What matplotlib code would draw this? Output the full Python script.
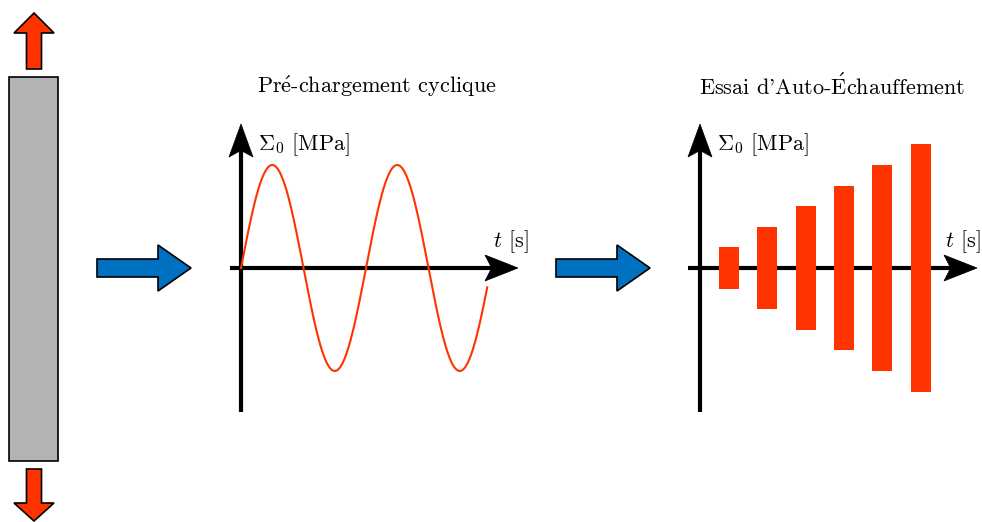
import numpy as np
import matplotlib
matplotlib.use("Agg")
import matplotlib.pyplot as plt
from matplotlib.patches import Polygon, Rectangle

plt.rcParams['font.family'] = ['cmr10', 'DejaVu Serif']
plt.rcParams['mathtext.fontset'] = 'cm'
plt.rcParams['axes.unicode_minus'] = False

# chart content
titles = [r"Pr$\acute{\mathrm{e}}$-chargement cyclique",
          r"Essai d'Auto-$\acute{\mathrm{E}}$chauffement"]
ylabel = r"$\Sigma_0$ [MPa]"
xlabel = r"$t$ [s]"
sine_cycles = 1.97          # number of periods drawn in the pre-loading panel
sine_amplitude = 1.0
block_levels = [0.2, 0.4, 0.6, 0.8, 1.0, 1.2]   # self-heating amplitude steps
block_times = [0.75, 1.75, 2.75, 3.75, 4.75, 5.75]

RED = "#ff3300"
BLUE = "#0070c0"
GRAY = "#b3b3b3"

# layout (pixels, y pointing down)
W, H = 982, 522
amp_px = 103          # pixels per stress unit
period_px = 125       # pixels per cycle (panel 1)
step_px = 38.4        # pixels per block step (panel 2)
origins = [(241, 268), (700, 268)]
axis_len = [(230, 518, 412, 124), (688, 977, 412, 124)]  # xstart, xtip, ybottom, ytip
title_x = [377, 832]
xlabel_x = [493, 945]

fig = plt.figure(figsize=(W / 100, H / 100), dpi=100)
ax = fig.add_axes([0, 0, 1, 1])
ax.set_xlim(0, W)
ax.set_ylim(H, 0)
ax.axis("off")


def head(tip, direction, length=33, half=12, color="black"):
    d = np.array(direction, float)
    n = np.array([-d[1], d[0]])
    tip = np.array(tip, float)
    base = tip - d * length
    notch = tip - d * length * 0.8
    pts = [tip, base + n * half, notch, base - n * half]
    ax.add_patch(Polygon(pts, closed=True, fc=color, ec=color, lw=0.5, zorder=5))


def block_arrow(x0, y0, dx, dy, shaft_w, head_w, head_l, fc):
    # arrow from (x0,y0) going along (dx,dy)
    d = np.array([dx, dy], float)
    L = np.hypot(dx, dy)
    d /= L
    n = np.array([-d[1], d[0]])
    p0 = np.array([x0, y0], float)
    sb = p0 + d * (L - head_l)
    pts = [p0 + n * shaft_w / 2, sb + n * shaft_w / 2, sb + n * head_w / 2,
           p0 + d * L, sb - n * head_w / 2, sb - n * shaft_w / 2, p0 - n * shaft_w / 2]
    ax.add_patch(Polygon(pts, closed=True, fc=fc, ec="black", lw=1.2, joinstyle="miter", zorder=4))


# specimen
ax.add_patch(Rectangle((9, 77), 49, 384, fc=GRAY, ec="black", lw=1.2))
block_arrow(34, 69, 0, -56, 15, 40, 20, RED)
block_arrow(34, 469, 0, 52, 15, 40, 18, RED)

# process arrows
block_arrow(97, 268, 94, 0, 18, 46, 33, BLUE)
block_arrow(556, 268, 94, 0, 18, 46, 33, BLUE)

# axes of both panels
for i, ((ox, oy), (xs, xt, yb, yt)) in enumerate(zip(origins, axis_len)):
    ax.plot([xs, xt - 20], [oy, oy], color="black", lw=3, solid_capstyle="butt", zorder=3)
    ax.plot([ox, ox], [yb, yt + 20], color="black", lw=3, solid_capstyle="butt", zorder=3)
    head((xt, oy), (1, 0), length=33, half=13)
    head((ox, yt), (0, -1), length=33, half=12)
    ax.text(ox + 17, 145, ylabel, fontsize=16, va="center", ha="left")
    ax.text(xlabel_x[i], 242, xlabel, fontsize=16, va="center", ha="left")
    ax.text(title_x[i], 86, titles[i], fontsize=16, ha="center", va="center")

# panel 1: cyclic pre-loading
ox, oy = origins[0]
t = np.linspace(0, sine_cycles, 400)
sig = sine_amplitude * np.sin(2 * np.pi * t)
ax.plot(ox + t * period_px, oy - sig * amp_px, color=RED, lw=1.5, zorder=4)

# panel 2: self-heating blocks
ox, oy = origins[1]
xs = [ox + tb * step_px for tb in block_times]
ax.bar(xs, [2 * a * amp_px for a in block_levels], width=20,
       bottom=[oy - a * amp_px for a in block_levels], color=RED, zorder=4)

fig.savefig("out.png", dpi=100)
